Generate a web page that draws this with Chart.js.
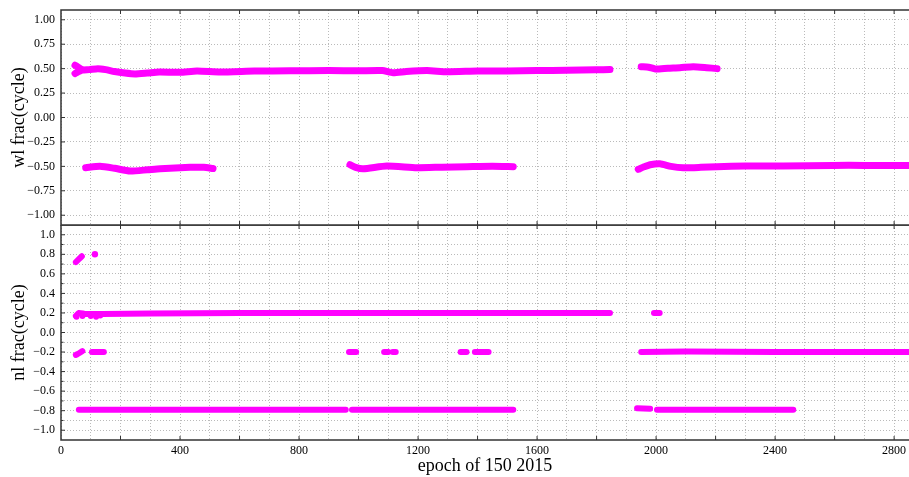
<!DOCTYPE html>
<html>
<head>
<meta charset="utf-8">
<script src="https://cdn.jsdelivr.net/npm/chart.js@4.4.1/dist/chart.umd.min.js"></script>
<style>
  html, body { margin: 0; padding: 0; background: #fff; overflow: hidden; }
  #wrap { position: relative; width: 909px; height: 477px; }
  canvas { position: absolute; left: 0; }
  #wlChart { top: 0; }
  #nlChart { top: 225px; }
</style>
</head>
<body>
<div id="wrap">
  <canvas id="wlChart" width="909" height="226"></canvas>
  <canvas id="nlChart" width="909" height="252"></canvas>
</div>
<script>
// epoch vs fractional part
// top panel: wide lane
const wlUpperMain = [[47,0.45],[70,0.485],[95,0.49],[124,0.50],[150,0.49],[180,0.47],[215,0.455],[249,0.446],[290,0.455],[330,0.465],[400,0.462],[457,0.476],[535,0.466],[650,0.475],[770,0.478],[900,0.48],[1000,0.478],[1080,0.48],[1116,0.458],[1160,0.47],[1230,0.48],[1297,0.468],[1400,0.476],[1500,0.476],[1600,0.48],[1700,0.483],[1800,0.488],[1845,0.49]];
const wlUpperSpur = [[47,0.535],[55,0.52],[70,0.49]];
const wlUpperLate = [[1950,0.52],[1975,0.515],[1997,0.497],[2040,0.505],[2080,0.51],[2125,0.52],[2170,0.51],[2205,0.50]];
const wlLowerA = [[83,-0.514],[131,-0.50],[180,-0.52],[232,-0.548],[290,-0.535],[333,-0.524],[434,-0.51],[480,-0.51],[511,-0.522]];
const wlLowerB = [[971,-0.483],[990,-0.51],[1016,-0.524],[1095,-0.497],[1196,-0.514],[1280,-0.508],[1364,-0.503],[1450,-0.498],[1520,-0.503]];
const wlLowerC = [[1940,-0.53],[1960,-0.505],[1980,-0.483],[2013,-0.473],[2050,-0.5],[2091,-0.514],[2150,-0.51],[2205,-0.503],[2300,-0.497],[2427,-0.497],[2595,-0.49],[2700,-0.49],[2850,-0.49]];

// bottom panel: narrow lane
const nlPlus02 = [[50,0.17],[60,0.2],[80,0.19],[100,0.19],[140,0.19],[300,0.195],[600,0.2],[900,0.2],[1200,0.2],[1500,0.2],[1845,0.2]];
const nlPlus02Low = [[52,0.16],[72,0.17],[100,0.17],[118,0.16],[132,0.175]];
const nlPlus02Late = [[1993,0.2],[2012,0.2]];
const nlPlus08 = [[50,0.72],[60,0.75],[70,0.78]];
const nlPlus08Dot = [[114,0.80]];
const nlMinus02Bits = [
  [[50,-0.23],[62,-0.21],[72,-0.19]],
  [[104,-0.2],[144,-0.2]],
  [[968,-0.2],[992,-0.2]],
  [[1086,-0.2],[1100,-0.2]],
  [[1115,-0.2],[1125,-0.2]],
  [[1343,-0.2],[1363,-0.2]],
  [[1391,-0.2],[1437,-0.2]]
];
const nlMinus02Late = [[1950,-0.2],[2100,-0.195],[2400,-0.2],[2850,-0.2]];
const nlMinus08Bits = [
  [[60,-0.79],[300,-0.79],[600,-0.79],[957,-0.79]],
  [[978,-0.79],[1200,-0.79],[1520,-0.79]],
  [[1936,-0.775],[1980,-0.78]],
  [[2003,-0.79],[2200,-0.79],[2461,-0.79]]
];

const xLabels = [0, 400, 800, 1200, 1600, 2000, 2400, 2800];
const wlTicks = [-1, -0.75, -0.5, -0.25, 0, 0.25, 0.5, 0.75, 1];
const nlTicks = [-1, -0.8, -0.6, -0.4, -0.2, 0, 0.2, 0.4, 0.6, 0.8, 1];

const MAGENTA = '#ff00ff';
const serif = "'Liberation Serif', 'DejaVu Serif', serif";
const X_MAX = 2850;

const xGrid = [];
for (let v = 0; v <= 2800; v += 100) xGrid.push(v);
const nlGrid = [];
for (let v = -10; v <= 10; v++) nlGrid.push(v / 10);

function pts(arr) { return arr.map(p => ({ x: p[0], y: p[1] })); }

function band(arr, w) {
  return {
    data: pts(arr), showLine: true, borderColor: MAGENTA, backgroundColor: MAGENTA,
    borderWidth: w, pointRadius: 0, borderCapStyle: 'round', borderJoinStyle: 'round', tension: 0.2
  };
}
function dots(arr, r) {
  return { data: pts(arr), showLine: false, backgroundColor: MAGENTA, borderWidth: 0, pointRadius: r };
}
function fmt(v) { return String(v).replace('-', '\u2212'); }
function noPad(s) { s.paddingTop = 0; s.paddingBottom = 0; s.paddingLeft = 0; s.paddingRight = 0; }

// axis frame and inward ticks
const framePlugin = {
  id: 'frame',
  afterDraw(chart) {
    const { ctx, chartArea: a, scales } = chart;
    ctx.save();
    ctx.strokeStyle = '#333';
    ctx.lineWidth = 1.5;
    ctx.beginPath();
    ctx.moveTo(a.right + 1, a.top); ctx.lineTo(a.left, a.top);
    ctx.lineTo(a.left, a.bottom); ctx.lineTo(a.right + 1, a.bottom);
    ctx.stroke();
    ctx.lineWidth = 1;
    ctx.beginPath();
    for (let v = 200; v <= 2800; v += 200) {
      const px = scales.x.getPixelForValue(v);
      ctx.moveTo(px, a.top); ctx.lineTo(px, a.top + 4);
      ctx.moveTo(px, a.bottom); ctx.lineTo(px, a.bottom - 4);
    }
    scales.y.ticks.forEach(t => {
      const py = scales.y.getPixelForValue(t.value);
      const len = t.label === '' ? 2.5 : 4;
      ctx.moveTo(a.left, py); ctx.lineTo(a.left + len, py);
    });
    ctx.stroke();
    ctx.restore();
  }
};

function xScale(showLabels) {
  return {
    type: 'linear', min: 0, max: X_MAX,
    afterBuildTicks: s => { s.ticks = xGrid.map(v => ({ value: v })); },
    afterFit: s => { s.height = showLabels ? 37 : 0; noPad(s); },
    grid: { color: '#a8a8a8', lineWidth: 0.8, drawTicks: false },
    border: { display: false, dash: [1, 2] },
    ticks: {
      display: showLabels, autoSkip: false, maxRotation: 0, padding: 4, color: '#000',
      font: { family: serif, size: 12 },
      callback: v => xLabels.includes(v) ? String(v) : ''
    },
    title: showLabels ? {
      display: true, text: 'epoch of 150 2015', color: '#000',
      font: { family: serif, size: 18 }, padding: { top: 0, bottom: 0 }
    } : { display: false }
  };
}

function yScale(gridVals, labelVals, digits, title) {
  return {
    type: 'linear', min: -1.1, max: 1.1,
    afterBuildTicks: s => { s.ticks = gridVals.map(v => ({ value: v })); },
    afterFit: s => { s.width = 61; noPad(s); },
    grid: { color: '#a8a8a8', lineWidth: 0.8, drawTicks: false },
    border: { display: false, dash: [1, 2] },
    ticks: {
      autoSkip: false, padding: 6, color: '#000',
      font: { family: serif, size: 12 },
      callback: v => {
        const hit = labelVals.find(l => Math.abs(l - v) < 1e-6);
        return hit === undefined ? '' : fmt(hit.toFixed(digits));
      }
    },
    title: {
      display: true, text: title, color: '#000',
      font: { family: serif, size: 18 }, padding: { top: 8, bottom: 0 }
    }
  };
}

const baseOpts = {
  responsive: false, animation: false,
  plugins: { legend: { display: false }, tooltip: { enabled: false } }
};

new Chart(document.getElementById('wlChart').getContext('2d'), {
  type: 'scatter',
  data: {
    datasets: [
      band(wlUpperMain, 7), band(wlUpperSpur, 7), band(wlUpperLate, 7),
      band(wlLowerA, 7), band(wlLowerB, 7), band(wlLowerC, 7)
    ]
  },
  options: Object.assign({}, baseOpts, {
    layout: { autoPadding: false, padding: { top: 10, right: 0, bottom: 1, left: 0 } },
    scales: { x: xScale(false), y: yScale(wlTicks, wlTicks, 2, 'wl frac(cycle)') }
  }),
  plugins: [framePlugin]
});

const nlSets = [
  band(nlPlus02, 6), dots(nlPlus02Low, 3), band(nlPlus02Late, 6),
  band(nlPlus08, 6), dots(nlPlus08Dot, 3.2), band(nlMinus02Late, 6)
];
nlMinus02Bits.forEach(b => nlSets.push(band(b, 6)));
nlMinus08Bits.forEach(b => nlSets.push(band(b, 6)));

new Chart(document.getElementById('nlChart').getContext('2d'), {
  type: 'scatter',
  data: { datasets: nlSets },
  options: Object.assign({}, baseOpts, {
    layout: { autoPadding: false, padding: { top: 0, right: 0, bottom: 0, left: 0 } },
    scales: { x: xScale(true), y: yScale(nlGrid, nlTicks, 1, 'nl frac(cycle)') }
  }),
  plugins: [framePlugin]
});
</script>
</body>
</html>
